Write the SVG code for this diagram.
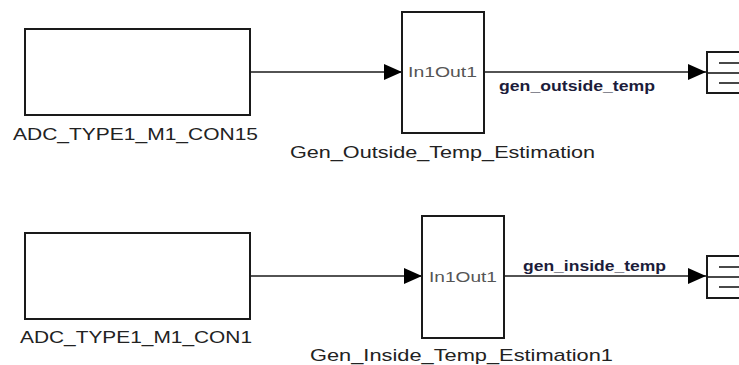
<svg xmlns="http://www.w3.org/2000/svg" width="739" height="365" viewBox="0 0 739 365">
<defs>
<marker id="arr" markerWidth="18" markerHeight="16" refX="18" refY="8" orient="auto" markerUnits="userSpaceOnUse">
<path d="M0,0 L18,8 L0,16 Z" fill="#000"/>
</marker>
<style>
.blk{fill:#fff;stroke:#1a1a1a;stroke-width:2}
.ln{stroke:#1a1a1a;stroke-width:1.6;fill:none}
.lbl{font-family:"Liberation Sans",Arial,sans-serif;font-size:17px;fill:#222}
.port{font-family:"Liberation Sans",Arial,sans-serif;font-size:15px;fill:#555}
.sig{font-family:"Liberation Sans",Arial,sans-serif;font-size:15px;font-weight:bold;fill:#1c1c3a}
</style>
</defs>
<rect width="739" height="365" fill="#fff"/>
<g id="connectors">
<line class="ln" x1="250" y1="72" x2="402" y2="72" marker-end="url(#arr)"/>
<line class="ln" x1="484" y1="72" x2="706" y2="72" marker-end="url(#arr)"/>
<line class="ln" x1="250" y1="276" x2="422" y2="276" marker-end="url(#arr)"/>
<line class="ln" x1="504" y1="276" x2="706" y2="276" marker-end="url(#arr)"/>
<text class="sig" x="499" y="91" textLength="156" lengthAdjust="spacingAndGlyphs">gen_outside_temp</text>
<text class="sig" x="523" y="271" textLength="143" lengthAdjust="spacingAndGlyphs">gen_inside_temp</text>
</g>
<g id="adc1">
<rect class="blk" x="25" y="29" width="225" height="86"/>
<text class="lbl" x="13" y="140" textLength="245" lengthAdjust="spacingAndGlyphs">ADC_TYPE1_M1_CON15</text>
</g>
<g id="gen_outside">
<rect class="blk" x="402" y="12" width="82" height="121"/>
<text class="port" x="408" y="77" textLength="69" lengthAdjust="spacingAndGlyphs">In1Out1</text>
<text class="lbl" x="290" y="158" textLength="305" lengthAdjust="spacingAndGlyphs">Gen_Outside_Temp_Estimation</text>
</g>
<g id="display1">
<rect class="blk" x="707" y="52" width="40" height="41"/>
<line class="ln" x1="719" y1="63" x2="739" y2="63"/>
<line class="ln" x1="707" y1="73" x2="739" y2="73"/>
<line class="ln" x1="719" y1="83" x2="739" y2="83"/>
</g>
<g id="adc2">
<rect class="blk" x="25" y="233" width="225" height="86"/>
<text class="lbl" x="20" y="343" textLength="232" lengthAdjust="spacingAndGlyphs">ADC_TYPE1_M1_CON1</text>
</g>
<g id="gen_inside">
<rect class="blk" x="422" y="216" width="82" height="122"/>
<text class="port" x="429" y="282" textLength="68" lengthAdjust="spacingAndGlyphs">In1Out1</text>
<text class="lbl" x="310" y="361" textLength="303" lengthAdjust="spacingAndGlyphs">Gen_Inside_Temp_Estimation1</text>
</g>
<g id="display2">
<rect class="blk" x="707" y="256" width="40" height="42"/>
<line class="ln" x1="719" y1="267" x2="739" y2="267"/>
<line class="ln" x1="707" y1="277" x2="739" y2="277"/>
<line class="ln" x1="719" y1="287" x2="739" y2="287"/>
</g>
</svg>
